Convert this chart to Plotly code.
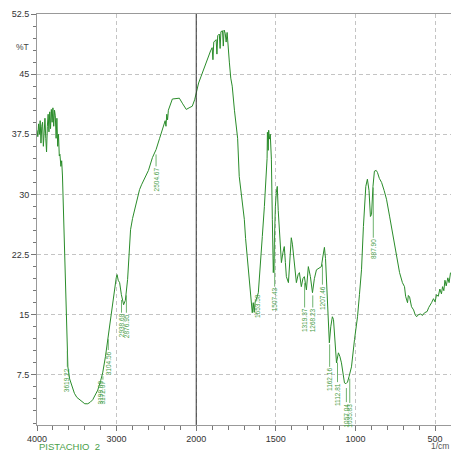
import numpy as np
import plotly.graph_objects as go

# ---------------- data ----------------
wavenumber = [
    4000, 3990, 3980, 3970, 3960, 3950, 3940, 3930, 3920, 3910, 3900, 3890, 3880, 3870,
    3860, 3850, 3840, 3830, 3820, 3810, 3800, 3790, 3780, 3770, 3760, 3750, 3740, 3730,
    3720, 3712, 3700, 3690, 3680, 3675, 3662, 3650, 3637, 3625, 3612, 3590, 3570, 3550,
    3530, 3500, 3462, 3430, 3400, 3362, 3330, 3300, 3270, 3237, 3200, 3175, 3140, 3112,
    3090, 3062, 3040, 3025, 3005, 2994, 2980, 2962, 2940, 2912, 2890, 2862, 2845, 2825,
    2800, 2775, 2740, 2712, 2687, 2650, 2600, 2550, 2504, 2460, 2420, 2390, 2380, 2370,
    2360, 2350, 2300, 2250, 2212, 2170, 2125, 2090, 2050, 2020, 2000, 1985, 1969, 1950,
    1931, 1910, 1900, 1895, 1890, 1875, 1870, 1865, 1855, 1850, 1845, 1835, 1830, 1825,
    1818, 1812, 1806, 1800, 1792, 1783, 1774, 1760, 1748, 1740, 1730, 1720, 1710, 1698,
    1690, 1679, 1665, 1654, 1648, 1642, 1636, 1630, 1623, 1610, 1597, 1585, 1572, 1560,
    1555, 1553, 1548, 1545, 1541, 1535, 1528, 1522, 1516, 1512, 1509, 1503, 1497, 1491,
    1485, 1478, 1465, 1455, 1447, 1440, 1434, 1421, 1410, 1403, 1396, 1390, 1380, 1371,
    1360, 1352, 1340, 1330, 1321, 1308, 1296, 1283, 1270, 1258, 1245, 1230, 1214, 1205,
    1201, 1195, 1188, 1182, 1176, 1170, 1164, 1155, 1145, 1138, 1128, 1119, 1107, 1098,
    1088, 1078, 1069, 1060, 1050, 1040, 1025, 1006, 987, 975, 962, 950, 943, 935,
    925, 915, 906, 899, 890, 881, 870, 862, 850, 836, 820, 805, 785, 767,
    745, 723, 705, 692, 685, 673, 668, 660, 648, 635, 625, 616, 605, 590,
    580, 566, 550, 540, 522, 510, 500, 491, 480, 470, 460, 453, 445, 438,
    430, 420, 412, 403,
]
transmittance = [
    38.0, 37.2, 38.8, 37.5, 39.2, 36.4, 38.5, 39.0, 36.0, 38.0, 39.5, 37.0, 35.3, 38.5,
    40.0, 37.8, 40.3, 38.2, 40.6, 39.0, 40.8, 38.5, 40.5, 39.8, 37.0, 39.5, 36.0, 37.5,
    34.8, 35.0, 33.5, 34.2, 32.3, 30.5, 26.0, 22.5, 19.4, 13.1, 8.5, 7.0, 6.3, 5.6,
    5.2, 4.7, 4.4, 4.1, 3.9, 3.9, 4.1, 4.4, 5.0, 5.6, 6.8, 7.75, 9.8, 11.9,
    13.8, 15.6, 17.3, 18.5, 19.6, 20.0, 19.3, 19.0, 17.5, 16.25, 16.8, 19.4, 22.5, 25.6,
    27.0, 28.1, 29.5, 30.6, 31.2, 31.9, 33.0, 34.6, 35.6, 37.0, 38.2, 39.2, 38.5, 40.0,
    39.3, 40.5, 41.9, 42.0, 42.0, 41.3, 40.6, 40.8, 41.0, 41.8, 42.75, 43.9, 44.75, 45.8,
    46.9, 47.9, 48.3, 46.8, 49.0, 49.3, 47.5, 49.8, 50.0, 48.2, 50.3, 50.4, 48.5, 50.5,
    50.1, 49.0, 50.2, 48.0, 46.5, 44.5, 43.5, 40.5, 38.1, 37.0, 32.25, 30.5, 29.5, 26.9,
    24.5, 21.9, 19.0, 16.9, 15.25, 16.5, 15.3, 16.6, 16.9, 17.75, 21.0, 24.75, 28.5, 31.9,
    34.5, 37.75, 35.5, 38.0, 36.9, 37.5, 34.4, 26.9, 20.25, 22.0, 25.0, 28.5, 30.25, 31.0,
    28.0, 25.6, 21.5, 22.8, 23.5, 21.5, 19.75, 19.0, 22.0, 24.6, 23.8, 22.75, 20.5, 19.0,
    20.0, 20.25, 18.5, 19.5, 19.75, 18.1, 21.0, 19.75, 17.75, 19.5, 20.6, 20.8, 21.0, 22.2,
    23.1, 23.4, 22.0, 19.5, 15.25, 13.0, 11.5, 13.5, 14.75, 14.4, 11.5, 9.0, 10.25, 9.8,
    9.0, 7.6, 6.5, 6.4, 6.6, 7.3, 8.5, 11.9, 14.75, 17.5, 20.6, 26.0, 29.4, 31.0,
    31.9, 30.5, 27.25, 27.5, 31.0, 32.9, 33.0, 32.75, 32.0, 31.5, 30.5, 29.4, 27.2, 25.25,
    22.8, 20.25, 19.0, 18.5, 17.3, 16.5, 17.4, 17.2, 16.0, 15.6, 15.0, 14.75, 15.0, 15.1,
    14.9, 15.25, 15.4, 15.9, 16.5, 17.0, 16.6, 17.5, 17.3, 18.2, 17.6, 18.5, 18.0, 19.3,
    18.6, 19.6, 19.0, 20.25,
]

peak_wn = [3619.22, 3199.08, 3172.07, 3104.56, 2938.68, 2876.95, 2504.67, 1653.58,
           1507.43, 1319.37, 1268.23, 1207.46, 1162.16, 1112.81, 1057.04, 1035.83, 887.90]
peak_labels = ["3619.22", "3199.08", "3172.07", "3104.56", "2938.68", "2876.95", "2504.67",
               "1653.58", "1507.43", "1319.37", "1268.23", "1207.46", "1162.16", "1112.81",
               "1057.04", "1035.83", "887.90"]
label_top = [8.5, 6.9, 6.9, 10.6, 15.25, 15.25, 33.5, 17.75, 18.5, 15.9, 15.9, 18.75,
             8.5, 6.6, 4.1, 4.0, 24.6]

x_tick_values = [4000, 3000, 2000, 1500, 1000, 500]
x_tick_labels = ["4000", "3000", "2000", "1500", "1000", "500"]
y_tick_values = [7.5, 15, 22.5, 30, 37.5, 45, 52.5]
y_tick_labels = ["7.5", "15", "22.5", "30", "37.5", "45", "52.5"]
sample_name = "PISTACHIO_2"


# FTIR-style axis: the region above 2000 1/cm is compressed by a factor 2
def to_axis(w):
    w = np.asarray(w, dtype=float)
    return np.where(w <= 2000, w, 2000 + (w - 2000) / 2.0)


GREEN = "#2a8c2a"
LABEL_GREEN = "#4aa04a"
FONT = "Liberation Sans"

fig = go.Figure()
fig.add_trace(go.Scatter(
    x=to_axis(wavenumber), y=transmittance, mode="lines",
    line=dict(color=GREEN, width=1), hoverinfo="skip", showlegend=False,
))

# leader lines from curve to peak labels
wn_arr = np.array(wavenumber)[::-1]
t_arr = np.array(transmittance)[::-1]
lx, ly = [], []
for w, top in zip(peak_wn, label_top):
    tc = float(np.interp(w, wn_arr, t_arr)) - 0.6
    if tc > top:
        xa = float(to_axis(w))
        lx += [xa, xa, None]
        ly += [tc, top, None]
fig.add_trace(go.Scatter(x=lx, y=ly, mode="lines", line=dict(color=LABEL_GREEN, width=0.8),
                         hoverinfo="skip", showlegend=False))

for w, lab, top in zip(peak_wn, peak_labels, label_top):
    fig.add_annotation(
        x=float(to_axis(w)), y=top, text=lab, textangle=-90, showarrow=False,
        xanchor="center", yanchor="top", borderpad=0,
        xshift=6 if lab == "1653.58" else 0,
        font=dict(family=FONT, size=6.5, color=LABEL_GREEN),
    )

fig.add_vline(x=float(to_axis(2000)), line=dict(color="#333333", width=1))

fig.add_annotation(xref="paper", yref="paper", x=-0.036, y=0.92, text="%T", showarrow=False,
                   xanchor="center", yanchor="middle", font=dict(family=FONT, size=8.5, color="#444"))
fig.add_annotation(xref="paper", yref="paper", x=0.0, y=-0.052, text=sample_name, showarrow=False,
                   xanchor="left", yanchor="middle", font=dict(family=FONT, size=9.5, color=LABEL_GREEN))
fig.add_annotation(xref="paper", yref="paper", x=1.0, y=-0.052, text="1/cm", showarrow=False,
                   xanchor="right", yanchor="middle", font=dict(family=FONT, size=8.5, color="#555"))

fig.update_xaxes(
    range=[3000, 400], tickmode="array", automargin=False,
    tickvals=to_axis(x_tick_values).tolist(), ticktext=x_tick_labels,
    ticks="outside", ticklen=5, tickcolor="#777", tickwidth=1,
    showline=True, linecolor="#999", linewidth=1, mirror=True,
    showgrid=True, gridcolor="#c4c4c4", griddash="4px,3px", gridwidth=1,
    zeroline=False,
    tickfont=dict(family=FONT, size=9, color="#333"),
    minor=dict(tickmode="array", tickvals=list(range(400, 3001, 100)), ticks="outside",
               ticklen=4, tickcolor="#777", showgrid=False),
)
fig.update_yaxes(
    range=[1.25, 52.5], tickmode="array", tickvals=y_tick_values, ticktext=y_tick_labels,
    automargin=False,
    ticks="outside", ticklen=5, tickcolor="#777", tickwidth=1,
    showline=True, linecolor="#999", linewidth=1, mirror=False,
    showgrid=True, gridcolor="#c4c4c4", griddash="4px,3px", gridwidth=1,
    zeroline=False,
    tickfont=dict(family=FONT, size=9, color="#333"),
    minor=dict(tick0=0, dtick=1.5, ticks="outside", ticklen=3, tickcolor="#777", showgrid=False),
)

fig.update_layout(
    width=451, height=450,
    margin=dict(l=37, r=0, t=14, b=25),
    paper_bgcolor="white", plot_bgcolor="white",
    showlegend=False,
)

fig.write_html("out.html", config={"displayModeBar": False},
               post_script="document.body.style.margin='0px';")
